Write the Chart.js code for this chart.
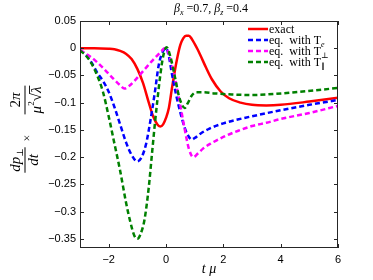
<!DOCTYPE html>
<html lang="en">
<head>
<meta charset="UTF-8">
<title>dp/dt vs t mu</title>
<script src="https://cdn.jsdelivr.net/npm/chart.js@4"></script>
<style>
    html, body { margin: 0; padding: 0; background: #fff; }
    canvas { display: block; }
</style>
</head>
<body>
<canvas id="c" width="373" height="280"></canvas>
<script>
// axis ticks
const xTicks = [-2, 0, 2, 4, 6];
const yTicks = [0.05, 0, -0.05, -0.1, -0.15, -0.2, -0.25, -0.3, -0.35];

// exact
const exactX = [-3, -2.5, -2, -1.8, -1.6, -1.4, -1.2, -1.0, -0.8, -0.6, -0.45, -0.3, -0.2, -0.1, 0, 0.1, 0.2, 0.3, 0.4, 0.5, 0.6, 0.7, 0.8, 0.9, 1.0, 1.1, 1.2, 1.4, 1.6, 1.9, 2.2, 2.6, 3.0, 3.5, 4.0, 5.0, 6.0];
const exactY = [0, 0, -0.001, -0.002, -0.005, -0.01, -0.02, -0.038, -0.064, -0.1, -0.125, -0.14, -0.144, -0.14, -0.128, -0.11, -0.076, -0.044, -0.016, 0.006, 0.018, 0.023, 0.023, 0.017, 0.008, -0.002, -0.013, -0.036, -0.057, -0.079, -0.092, -0.1, -0.104, -0.105, -0.104, -0.098, -0.091];

// eq. with T_e
const teX = [-3, -2.8, -2.6, -2.4, -2.2, -2.0, -1.8, -1.6, -1.4, -1.2, -1.0, -0.85, -0.7, -0.55, -0.4, -0.25, -0.1, 0, 0.1, 0.2, 0.35, 0.5, 0.65, 0.8, 0.9, 1.0, 1.2, 1.5, 2.0, 2.5, 3.0, 4.0, 5.0, 6.0];
const teY = [-0.003, -0.012, -0.026, -0.045, -0.06, -0.08, -0.108, -0.14, -0.172, -0.196, -0.208, -0.2, -0.177, -0.135, -0.085, -0.03, -0.005, 0, -0.015, -0.045, -0.085, -0.118, -0.146, -0.163, -0.168, -0.165, -0.157, -0.148, -0.138, -0.131, -0.125, -0.114, -0.104, -0.095];

// eq. with T_perp
const tpX = [-3, -2.8, -2.6, -2.4, -2.2, -2.0, -1.8, -1.6, -1.45, -1.3, -1.1, -0.9, -0.7, -0.5, -0.3, -0.15, -0.05, 0.05, 0.2, 0.35, 0.5, 0.65, 0.8, 0.95, 1.1, 1.3, 1.6, 2.0, 2.5, 3.0, 3.5, 4.0, 5.0, 6.0];
const tpY = [-0.003, -0.01, -0.017, -0.026, -0.036, -0.047, -0.058, -0.068, -0.074, -0.07, -0.06, -0.048, -0.036, -0.024, -0.013, -0.005, 0, -0.004, -0.03, -0.065, -0.105, -0.148, -0.185, -0.2, -0.194, -0.184, -0.174, -0.163, -0.152, -0.143, -0.137, -0.13, -0.119, -0.106];

// eq. with T_par
const tlX = [-3, -2.8, -2.6, -2.4, -2.2, -2.0, -1.8, -1.6, -1.4, -1.25, -1.1, -1.0, -0.9, -0.75, -0.6, -0.5, -0.4, -0.3, -0.2, -0.1, 0.02, 0.15, 0.3, 0.45, 0.55, 0.65, 0.75, 0.9, 1.05, 1.3, 1.7, 2.3, 3.0, 3.5, 4.5, 6.0];
const tlY = [-0.004, -0.013, -0.028, -0.05, -0.08, -0.125, -0.175, -0.225, -0.282, -0.318, -0.345, -0.35, -0.343, -0.315, -0.255, -0.2, -0.145, -0.095, -0.05, -0.015, 0.002, -0.015, -0.05, -0.088, -0.103, -0.11, -0.102, -0.087, -0.081, -0.081, -0.083, -0.085, -0.086, -0.085, -0.081, -0.073];

const legendNames = ['exact', 'eq.  with T', 'eq.  with T', 'eq.  with T'];
const legendSubs = ['', 'e', '\u22A5', '\u2225'];
const colors = ['#ff0000', '#0000ff', '#ff00ff', '#008000'];
const dashes = [[], [5, 3], [5, 3], [5, 3]];

const pts = (xs, ys) => xs.map((v, i) => ({ x: v, y: ys[i] }));
const serif = '"Liberation Serif", "DejaVu Serif", serif';
const sans = '"Liberation Sans", Arial, sans-serif';

function drawRuns(ctx, x, y, parts, align) {
    let w = 0;
    parts.forEach(p => { ctx.font = p[1]; w += ctx.measureText(p[0]).width; });
    let cx = align === 'center' ? x - w / 2 : x;
    const pos = [];
    parts.forEach(p => {
        ctx.font = p[1];
        ctx.fillText(p[0], cx, y + (p[2] || 0));
        const pw = ctx.measureText(p[0]).width;
        pos.push([cx, pw]);
        cx += pw;
    });
    return { w, pos };
}

const decor = {
    id: 'decor',
    afterDraw(chart) {
        const { ctx, chartArea: a, scales: { x, y } } = chart;
        ctx.save();
        // frame and inward ticks
        ctx.strokeStyle = '#262626';
        ctx.lineWidth = 1;
        ctx.setLineDash([]);
        ctx.strokeRect(a.left + 0.5, a.top + 0.5, a.right - a.left - 1, a.bottom - a.top - 1);
        ctx.beginPath();
        xTicks.forEach(v => {
            const p = Math.round(x.getPixelForValue(v)) + 0.5;
            ctx.moveTo(p, a.bottom); ctx.lineTo(p, a.bottom - 4);
            ctx.moveTo(p, a.top); ctx.lineTo(p, a.top + 4);
        });
        yTicks.forEach(v => {
            const p = Math.round(y.getPixelForValue(v)) + 0.5;
            ctx.moveTo(a.left, p); ctx.lineTo(a.left + 4, p);
            ctx.moveTo(a.right, p); ctx.lineTo(a.right - 4, p);
        });
        ctx.stroke();

        ctx.fillStyle = '#000';
        ctx.textBaseline = 'alphabetic';
        ctx.textAlign = 'left';

        // title
        const it12 = 'italic 12px ' + serif, r12 = '12px ' + serif, s8 = 'italic 8px ' + serif;
        drawRuns(ctx, 211, 12, [['\u03B2', it12], ['x', s8, 3], [' =0.7, ', r12], ['\u03B2', it12], ['z', s8, 3], [' =0.4', r12]], 'center');

        // x label
        drawRuns(ctx, 209, 273, [['t', 'italic 14px ' + serif], [' \u03BC', 'italic 14px ' + serif]], 'center');

        // y label (rotated)
        const it15 = 'italic 15px ' + serif, r15 = '15px ' + serif;
        ctx.save();
        ctx.translate(25, 160);
        ctx.rotate(-Math.PI / 2);
        const n1 = drawRuns(ctx, 0, -5, [['dp', it15], ['\u22A5', '9px ' + serif, 3]], 'center');
        const d1 = drawRuns(ctx, 0, 13, [['dt', it15]], 'center');
        const b1 = Math.max(n1.w, d1.w) + 2;
        ctx.fillRect(-b1 / 2, -0.5, b1, 1);
        ctx.restore();

        ctx.save();
        ctx.translate(25, 138);
        ctx.rotate(-Math.PI / 2);
        drawRuns(ctx, 0, 6, [['\u00D7', '12px ' + serif]], 'center');
        ctx.restore();

        ctx.save();
        ctx.translate(25, 100);
        ctx.rotate(-Math.PI / 2);
        const n2 = drawRuns(ctx, 0, -5, [['2', r15], ['\u03C0', it15]], 'center');
        const d2 = drawRuns(ctx, 0, 16, [['\u03BC', it15], ['2', '9px ' + serif, -7], ['\u221A', r15], ['\u03BB', it15]], 'center');
        const lam = d2.pos[3];
        ctx.fillRect(lam[0] - 0.5, 16 - 12, lam[1] + 1.5, 0.9);
        const b2 = Math.max(n2.w, d2.w) + 2;
        ctx.fillRect(-b2 / 2, -0.5, b2, 1);
        ctx.restore();

        // legend
        legendNames.forEach((name, i) => {
            const yy = 29 + i * 11;
            ctx.strokeStyle = colors[i];
            ctx.lineWidth = 2.5;
            ctx.setLineDash(dashes[i]);
            ctx.beginPath();
            ctx.moveTo(248, yy); ctx.lineTo(268, yy);
            ctx.stroke();
            ctx.fillStyle = '#000';
            const parts = [[name, '12px ' + serif]];
            if (legendSubs[i]) parts.push([legendSubs[i], 'italic 8px ' + serif, 3]);
            drawRuns(ctx, 269, yy + 4, parts, 'left');
        });
        ctx.restore();
    }
};

const makeSet = (xs, ys, i, order) => ({
    data: pts(xs, ys),
    borderColor: colors[i],
    borderWidth: 2.5,
    borderDash: dashes[i],
    pointRadius: 0,
    fill: false,
    cubicInterpolationMode: 'monotone',
    order: order
});

new Chart(document.getElementById('c'), {
    type: 'line',
    data: {
        datasets: [
            makeSet(exactX, exactY, 0, 4),
            makeSet(teX, teY, 1, 3),
            makeSet(tpX, tpY, 2, 2),
            makeSet(tlX, tlY, 3, 1)
        ]
    },
    options: {
        responsive: false,
        animation: false,
        devicePixelRatio: 1,
        layout: { padding: { left: 0, right: 35, top: 21, bottom: 0 } },
        plugins: { legend: { display: false }, tooltip: { enabled: false } },
        scales: {
            x: {
                type: 'linear',
                min: -3, max: 6,
                afterBuildTicks: s => { s.ticks = xTicks.map(v => ({ value: v })); },
                afterFit: s => { s.height = 32; },
                grid: { display: false, drawTicks: false },
                border: { display: false },
                ticks: {
                    padding: 5,
                    color: '#000',
                    font: { family: sans, size: 11 },
                    callback: v => String(v).replace('-', '\u2212')
                }
            },
            y: {
                min: -0.367, max: 0.05,
                afterBuildTicks: s => { s.ticks = yTicks.map(v => ({ value: v })); },
                afterFit: s => { s.width = 80; },
                grid: { display: false, drawTicks: false },
                border: { display: false },
                ticks: {
                    padding: 4,
                    color: '#000',
                    font: { family: sans, size: 11 },
                    callback: v => String(+v.toFixed(2)).replace('-', '\u2212')
                }
            }
        }
    },
    plugins: [decor]
});
</script>
</body>
</html>
